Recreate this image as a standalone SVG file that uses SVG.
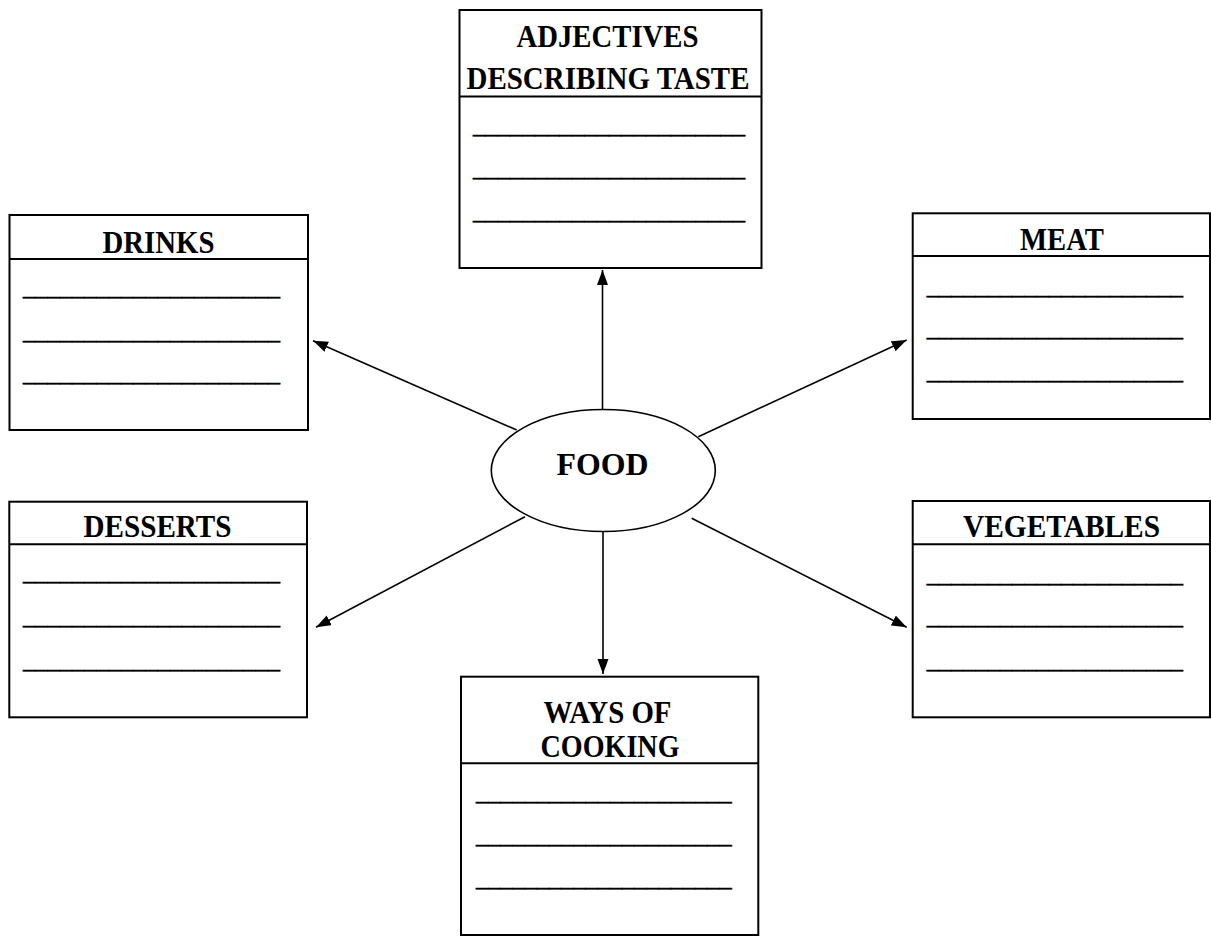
<svg xmlns="http://www.w3.org/2000/svg" width="1211" height="936" viewBox="0 0 1211 936">
<defs>
<marker id="ah" markerUnits="userSpaceOnUse" markerWidth="16" markerHeight="12" refX="15" refY="5.5" orient="auto">
<path d="M0,0 L15,5.5 L0,11 z" fill="#000"/>
</marker>
<style>
.box{fill:#fff;stroke:#000;stroke-width:2}
.div{stroke:#000;stroke-width:2}
.t{font-family:"Liberation Serif","Times New Roman",serif;font-weight:bold;font-size:31.5px;text-anchor:middle;fill:#000}
.u{font-family:"Liberation Serif","Times New Roman",serif;font-size:24px;fill:#000;stroke:#000;stroke-width:0.5}
.c{stroke:#000;stroke-width:1.6;fill:none;marker-end:url(#ah)}
</style>
</defs>
<rect width="1211" height="936" fill="#fff"/>
<g id="connectors">
<line class="c" x1="602.5" y1="410" x2="602.5" y2="270"/>
<line class="c" x1="516.7" y1="430" x2="313" y2="340.7"/>
<line class="c" x1="698.3" y1="436.7" x2="906.7" y2="340"/>
<line class="c" x1="525" y1="516.7" x2="316" y2="627.3"/>
<line class="c" x1="691.7" y1="518.3" x2="906.7" y2="627.3"/>
<line class="c" x1="603" y1="531.7" x2="603" y2="674"/>
</g>
<g id="food">
<ellipse cx="603.3" cy="470.5" rx="112" ry="61" fill="#fff" stroke="#000" stroke-width="1.6"/>
<text class="t" x="602.5" y="475" textLength="92" lengthAdjust="spacingAndGlyphs">FOOD</text>
</g>
<g id="adjectives">
<rect class="box" x="459.5" y="10" width="302" height="258"/>
<line class="div" x1="459.5" y1="96.5" x2="761.5" y2="96.5"/>
<text class="t" x="607.5" y="46.5" textLength="182" lengthAdjust="spacingAndGlyphs">ADJECTIVES</text>
<text class="t" x="608" y="89" textLength="283" lengthAdjust="spacingAndGlyphs">DESCRIBING TASTE</text>
<text class="u" x="473" y="132.5" textLength="272" lengthAdjust="spacingAndGlyphs">______________________</text>
<text class="u" x="473" y="175.5" textLength="272" lengthAdjust="spacingAndGlyphs">______________________</text>
<text class="u" x="473" y="218.5" textLength="272" lengthAdjust="spacingAndGlyphs">______________________</text>
</g>
<g id="drinks">
<rect class="box" x="9.5" y="215" width="298.5" height="215"/>
<line class="div" x1="9.5" y1="259" x2="308" y2="259"/>
<text class="t" x="158.5" y="253" textLength="112" lengthAdjust="spacingAndGlyphs">DRINKS</text>
<text class="u" x="23" y="294.5" textLength="257" lengthAdjust="spacingAndGlyphs">_____________________</text>
<text class="u" x="23" y="338.5" textLength="257" lengthAdjust="spacingAndGlyphs">_____________________</text>
<text class="u" x="23" y="380.5" textLength="257" lengthAdjust="spacingAndGlyphs">_____________________</text>
</g>
<g id="meat">
<rect class="box" x="912.7" y="213.3" width="297.3" height="205.7"/>
<line class="div" x1="912.7" y1="256" x2="1210" y2="256"/>
<text class="t" x="1062" y="250" textLength="84" lengthAdjust="spacingAndGlyphs">MEAT</text>
<text class="u" x="926.7" y="293.5" textLength="256.3" lengthAdjust="spacingAndGlyphs">_____________________</text>
<text class="u" x="926.7" y="335.5" textLength="256.3" lengthAdjust="spacingAndGlyphs">_____________________</text>
<text class="u" x="926.7" y="379.2" textLength="256.3" lengthAdjust="spacingAndGlyphs">_____________________</text>
</g>
<g id="desserts">
<rect class="box" x="9.3" y="501.7" width="297.7" height="215.6"/>
<line class="div" x1="9.3" y1="544.3" x2="307" y2="544.3"/>
<text class="t" x="157.5" y="537" textLength="148" lengthAdjust="spacingAndGlyphs">DESSERTS</text>
<text class="u" x="23" y="580.2" textLength="257" lengthAdjust="spacingAndGlyphs">_____________________</text>
<text class="u" x="23" y="623.5" textLength="257" lengthAdjust="spacingAndGlyphs">_____________________</text>
<text class="u" x="23" y="667.5" textLength="257" lengthAdjust="spacingAndGlyphs">_____________________</text>
</g>
<g id="vegetables">
<rect class="box" x="912.7" y="501" width="297.3" height="216.3"/>
<line class="div" x1="912.7" y1="544.3" x2="1210" y2="544.3"/>
<text class="t" x="1061.5" y="537" textLength="197" lengthAdjust="spacingAndGlyphs">VEGETABLES</text>
<text class="u" x="926.7" y="581.5" textLength="256.3" lengthAdjust="spacingAndGlyphs">_____________________</text>
<text class="u" x="926.7" y="624.2" textLength="256.3" lengthAdjust="spacingAndGlyphs">_____________________</text>
<text class="u" x="926.7" y="667.5" textLength="256.3" lengthAdjust="spacingAndGlyphs">_____________________</text>
</g>
<g id="ways">
<rect class="box" x="461" y="676.7" width="297.3" height="258.3"/>
<line class="div" x1="461" y1="763.3" x2="758.3" y2="763.3"/>
<text class="t" x="607.5" y="723.3" textLength="128" lengthAdjust="spacingAndGlyphs">WAYS OF</text>
<text class="t" x="610" y="756.7" textLength="139" lengthAdjust="spacingAndGlyphs">COOKING</text>
<text class="u" x="476" y="800.2" textLength="255.7" lengthAdjust="spacingAndGlyphs">_____________________</text>
<text class="u" x="476" y="842.5" textLength="255.7" lengthAdjust="spacingAndGlyphs">_____________________</text>
<text class="u" x="476" y="885.8" textLength="255.7" lengthAdjust="spacingAndGlyphs">_____________________</text>
</g>
</svg>
